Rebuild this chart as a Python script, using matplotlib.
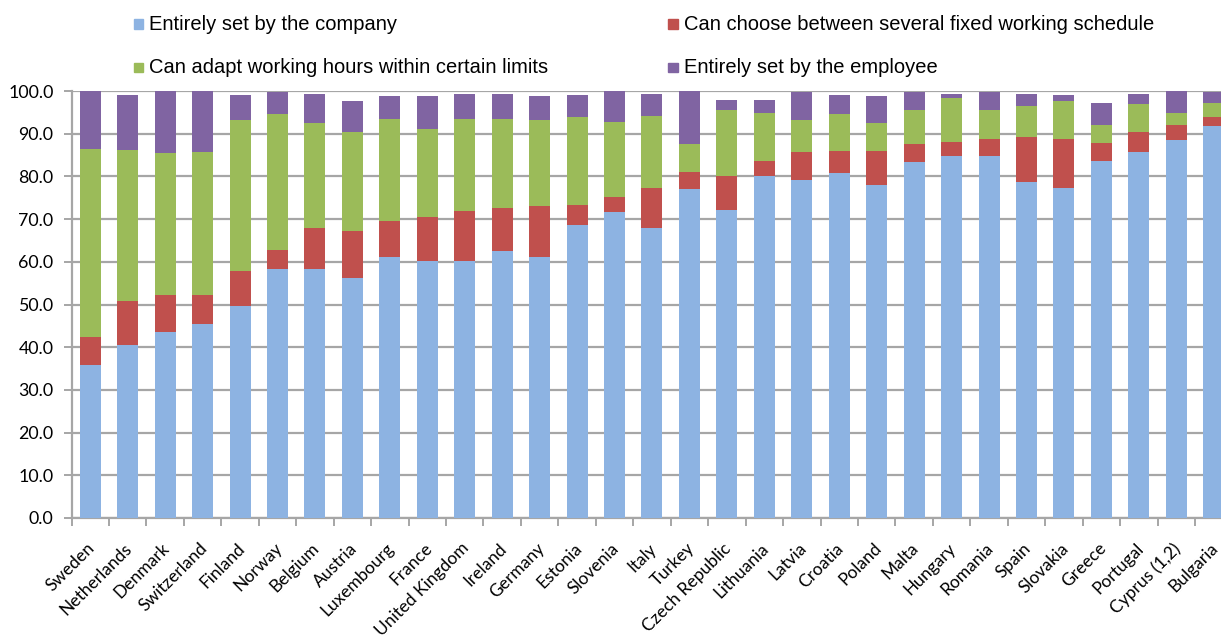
import matplotlib
matplotlib.use("Agg")
import matplotlib.pyplot as plt
import matplotlib.transforms as mtransforms
from matplotlib.patches import Rectangle
import numpy as np

countries = ["Sweden", "Netherlands", "Denmark", "Switzerland", "Finland", "Norway",
             "Belgium", "Austria", "Luxembourg", "France", "United Kingdom", "Ireland",
             "Germany", "Estonia", "Slovenia", "Italy", "Turkey", "Czech Republic",
             "Lithuania", "Latvia", "Croatia", "Poland", "Malta", "Hungary", "Romania",
             "Spain", "Slovakia", "Greece", "Portugal", "Cyprus (1,2)", "Bulgaria"]

company = [35.9, 40.4, 43.6, 45.4, 49.6, 58.3, 58.3, 56.3, 61.1, 60.1, 60.1, 62.5,
           61.2, 68.6, 71.7, 67.9, 77.0, 72.1, 80.1, 79.1, 80.8, 78.0, 83.3, 84.7,
           84.7, 78.7, 77.4, 83.7, 85.8, 88.6, 91.7]
fixed_schedules = [6.6, 10.5, 8.7, 6.9, 8.3, 4.5, 9.5, 10.8, 8.4, 10.5, 11.9, 10.2,
                   11.9, 4.8, 3.5, 9.4, 4.1, 7.9, 3.5, 6.7, 5.1, 7.9, 4.2, 3.4,
                   4.1, 10.5, 11.4, 4.1, 4.5, 3.5, 2.1]
adapt_hours = [43.9, 35.2, 33.1, 33.5, 35.2, 31.7, 24.6, 23.2, 23.9, 20.4, 21.4, 20.7,
               20.0, 20.4, 17.6, 16.9, 6.4, 15.6, 11.3, 7.3, 8.6, 6.5, 8.1, 10.3,
               6.8, 7.4, 8.9, 4.3, 6.7, 2.8, 3.5]
employee = [13.6, 13.0, 14.6, 14.2, 6.0, 5.3, 7.0, 7.4, 5.4, 7.8, 6.0, 6.0,
            5.7, 5.3, 7.2, 5.2, 12.5, 2.4, 3.1, 6.7, 4.6, 6.4, 4.2, 1.0,
            4.2, 2.8, 1.4, 5.2, 2.4, 5.1, 2.5]

series_labels = ["Entirely set by the company",
                 "Can choose between several fixed working schedule",
                 "Can adapt working hours within certain limits",
                 "Entirely set by the employee"]
series_colors = ["#8DB3E2", "#C0504D", "#9BBB59", "#8064A2"]
y_ticks = np.arange(0, 101, 10)

W, H = 1221, 638
fig = plt.figure(figsize=(W / 100, H / 100), dpi=100)
fig.patch.set_facecolor("white")

# plot area in pixels: left edge 71.5, 37.45 px per category, extends past the right border
left_px, slot_px = 71.5, 37.45
top_px, bottom_px = 91.0, 518.0
n = len(countries)
ax = fig.add_axes([left_px / W, (H - bottom_px) / H,
                   n * slot_px / W, (bottom_px - top_px) / H])

x = np.arange(n)
bar_w = 0.56
bottom = np.zeros(n)
for vals, col in zip([company, fixed_schedules, adapt_hours, employee], series_colors):
    ax.bar(x, vals, bar_w, bottom=bottom, color=col, edgecolor="none", zorder=3)
    bottom = bottom + np.array(vals)

grid_col = "#A6A6A6"
ax.set_xlim(-0.5, n - 0.5)
ax.set_ylim(0, 100)
ax.set_yticks(y_ticks)
ax.set_yticklabels([f"{v:.1f}" for v in y_ticks])
ax.yaxis.grid(True, color=grid_col, linewidth=1.6, zorder=0)
ax.set_axisbelow(True)

for side in ["top", "right"]:
    ax.spines[side].set_visible(False)
for side in ["left", "bottom"]:
    ax.spines[side].set_color(grid_col)
    ax.spines[side].set_linewidth(1.6)

ax.tick_params(axis="y", direction="out", length=6, width=1.4, color=grid_col,
               pad=7, labelsize=12.8, labelcolor="black")
for lbl in ax.get_yticklabels():
    lbl.set_fontfamily("Lato")

# category boundary ticks below the axis
ax.set_xticks(np.arange(-0.5, n, 1.0), minor=True)
ax.tick_params(axis="x", which="minor", direction="out", length=6, width=1.4, color=grid_col)
ax.set_xticks(x)
ax.set_xticklabels(countries, rotation=45, ha="right", va="center",
                   rotation_mode="anchor", fontsize=12.5, fontfamily="Lato")
ax.tick_params(axis="x", which="major", length=0, pad=20)
shift = mtransforms.ScaledTranslation(2 / 100, 0, fig.dpi_scale_trans)
for lbl in ax.get_xticklabels():
    lbl.set_transform(lbl.get_transform() + shift)

# legend laid out in two columns above the plot
legend_font = ["Liberation Sans", "DejaVu Sans"]
legend_pos = [(133.5, 24.0), (668.0, 24.0), (133.5, 67.5), (668.0, 67.5)]
for (px, py), lab, col in zip(legend_pos, series_labels, series_colors):
    sq = 9.5
    fig.patches.append(Rectangle(((px) / W, (H - py - sq / 2) / H), sq / W, sq / H,
                                 transform=fig.transFigure, color=col))
    fig.text((px + sq + 6) / W, (H - py) / H, lab, ha="left", va="center",
             fontsize=14.5, family=legend_font, color="black")

fig.savefig("out.png", dpi=100, facecolor="white")
